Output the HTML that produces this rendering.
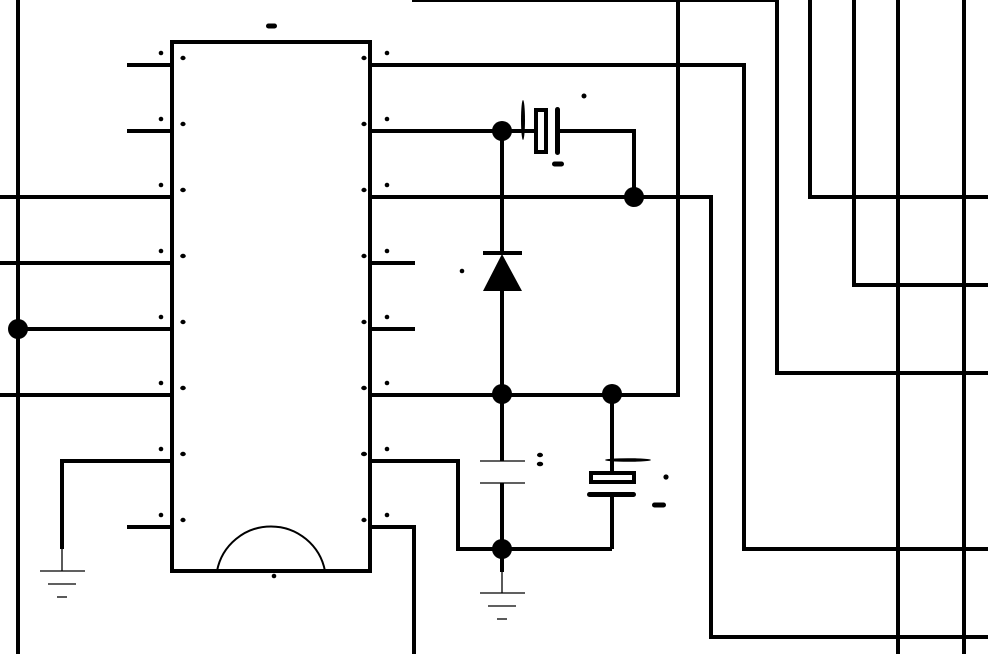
<!DOCTYPE html>
<html><head><meta charset="utf-8"><style>
html,body{margin:0;padding:0;background:#fff;}
svg{display:block;}
</style></head><body>
<svg width="988" height="654" viewBox="0 0 988 654" xmlns="http://www.w3.org/2000/svg">
<g fill="none" stroke="#000" stroke-width="4" shape-rendering="crispEdges">
  <!-- left side -->
  <path d="M18 0V654"/>
  <path d="M18 329H172"/>
  <path d="M0 197H172"/>
  <path d="M0 263H172"/>
  <path d="M0 395H172"/>
  <path d="M127 65H172"/>
  <path d="M127 131H172"/>
  <path d="M127 527H172"/>
  <path d="M172 461H62V549"/>
  <!-- IC -->
  <rect x="172" y="42" width="198" height="529"/>
  <!-- right side -->
  <path d="M370 65H744V549H988"/>
  <path d="M370 131H534"/>
  <path d="M557 131H634V197"/>
  <path d="M370 197H711V637H988"/>
  <path d="M370 263H415"/>
  <path d="M370 329H415"/>
  <path d="M370 395H678V0"/>
  <path d="M370 461H458V549H612"/>
  <path d="M370 527H414V654"/>
  <path d="M777 0V373H988"/>
  <path d="M810 0V197H988"/>
  <path d="M854 0V285H988"/>
  <path d="M898 0V654"/>
  <path d="M964 0V654"/>
  <!-- middle -->
  <path d="M502 131V253"/>
  <path d="M483 253H522"/>
  <path d="M502 291V461"/>
  <path d="M502 483V572"/>
  <path d="M612 394V471"/>
  <path d="M612 496V549"/>
</g>
<g fill="none" stroke="#000" stroke-width="2">
  <path d="M412 1H777"/>
  <path d="M217 571A55 55 0 0 1 325 571"/>
</g>
<g fill="none" stroke="#000" stroke-width="1.3">
  <path d="M62 549V571"/>
  <path d="M40 571H85"/>
  <path d="M48 584H76"/>
  <path d="M57 597H67"/>
  <path d="M480 461H525"/>
  <path d="M480 483H525"/>
  <path d="M502 572V593"/>
  <path d="M480 593H525"/>
  <path d="M488 606H516"/>
  <path d="M497 619H507"/>
</g>
<!-- diode -->
<polygon points="502,254 483,291 522,291" fill="#000"/>
<!-- crystal -->
<ellipse cx="523" cy="120" rx="2" ry="20" fill="#000"/>
<rect x="536" y="110" width="10" height="42" fill="#fff" stroke="#000" stroke-width="4"/>
<rect x="555" y="107" width="5" height="48" rx="2.5" fill="#000"/>
<!-- electrolytic cap -->
<ellipse cx="628" cy="460" rx="23" ry="1.8" fill="#000"/>
<rect x="591" y="473" width="43" height="9" fill="#fff" stroke="#000" stroke-width="4"/>
<rect x="587" y="492" width="49" height="5" rx="2.5" fill="#000"/>
<!-- junction dots -->
<g fill="#000">
  <circle cx="18" cy="329" r="10"/>
  <circle cx="502" cy="131" r="10"/>
  <circle cx="634" cy="197" r="10"/>
  <circle cx="502" cy="394" r="10"/>
  <circle cx="612" cy="394" r="10"/>
  <circle cx="502" cy="549" r="10"/>
</g>
<!-- small label dots -->
<g fill="#000">
  <circle cx="161" cy="53" r="2.3"/><circle cx="161" cy="119" r="2.3"/><circle cx="161" cy="185" r="2.3"/><circle cx="161" cy="251" r="2.3"/>
  <circle cx="161" cy="317" r="2.3"/><circle cx="161" cy="383" r="2.3"/><circle cx="161" cy="449" r="2.3"/><circle cx="161" cy="515" r="2.3"/>
  <ellipse cx="183" cy="58" rx="2.6" ry="2.2"/><ellipse cx="183" cy="124" rx="2.6" ry="2.2"/><ellipse cx="183" cy="190" rx="2.8" ry="2.2"/><ellipse cx="183" cy="256" rx="2.8" ry="2.2"/>
  <ellipse cx="183" cy="322" rx="2.6" ry="2.2"/><ellipse cx="183" cy="388" rx="2.8" ry="2.2"/><ellipse cx="183" cy="454" rx="2.8" ry="2.2"/><ellipse cx="183" cy="520" rx="2.6" ry="2.2"/>
  <ellipse cx="364" cy="58" rx="2.6" ry="2.2"/><ellipse cx="364" cy="124" rx="2.6" ry="2.2"/><ellipse cx="364" cy="190" rx="2.6" ry="2.2"/><ellipse cx="364" cy="256" rx="2.6" ry="2.2"/>
  <ellipse cx="364" cy="322" rx="2.6" ry="2.2"/><ellipse cx="364" cy="388" rx="2.8" ry="2.2"/><ellipse cx="364" cy="454" rx="3" ry="2.2"/><ellipse cx="364" cy="520" rx="2.6" ry="2.2"/>
  <circle cx="387" cy="53" r="2.3"/><circle cx="387" cy="119" r="2.3"/><circle cx="387" cy="185" r="2.3"/><circle cx="387" cy="251" r="2.3"/>
  <circle cx="387" cy="317" r="2.3"/><circle cx="387" cy="383" r="2.3"/><circle cx="387" cy="449" r="2.3"/><circle cx="387" cy="515" r="2.3"/>
  <rect x="266" y="23.5" width="11" height="5" rx="2.5"/>
  <circle cx="274" cy="576" r="2.3"/>
  <circle cx="584" cy="96" r="2.5"/>
  <rect x="552" y="161.5" width="12" height="5" rx="2.5"/>
  <circle cx="462" cy="271" r="2.3"/>
  <ellipse cx="540" cy="455" rx="3" ry="2.2"/>
  <ellipse cx="540" cy="464" rx="3.2" ry="2.3"/>
  <circle cx="666" cy="477" r="2.6"/>
  <rect x="652" y="502.5" width="14" height="5" rx="2.5"/>
</g>
</svg>
</body></html>
